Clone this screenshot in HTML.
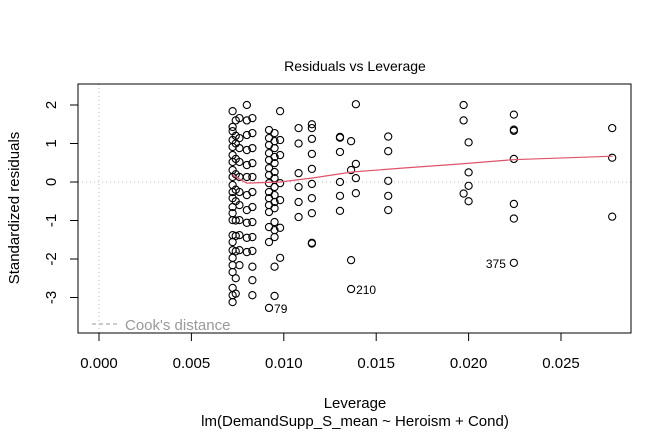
<!DOCTYPE html>
<html><head><meta charset="utf-8"><style>
body{margin:0;background:#fff}
svg text{font-family:"Liberation Sans",sans-serif}
</style></head><body>
<svg id="chart" width="672" height="432" xmlns="http://www.w3.org/2000/svg">
<rect width="672" height="432" fill="#fff"/>
<text x="355" y="71" text-anchor="middle" font-size="14">Residuals vs Leverage</text>
<text x="355" y="408" text-anchor="middle" font-size="15">Leverage</text>
<text x="355" y="426" text-anchor="middle" font-size="15">lm(DemandSupp_S_mean ~ Heroism + Cond)</text>
<text transform="translate(19,208) rotate(-90)" text-anchor="middle" font-size="15">Standardized residuals</text>
<g id="axes"></g>
<g id="marks"></g>
<rect x="78" y="84" width="553" height="249" fill="none" stroke="#000" stroke-width="1"/>
</svg>
<script>
const levs = [0.00723,0.0074,0.0076,0.0080,0.0083,0.0092,0.0095,0.0098,0.0108,0.01152,0.01304,0.01364,0.0139,0.01565,0.01973,0.0200,0.02245,0.02777];
const resCol0 = [1.84,1.43,1.32,1.09,0.91,0.70,0.52,0.31,0.13,-0.08,-0.26,-0.42,-0.65,-0.81,-0.99,-1.38,-1.56,-1.77,-1.97,-2.16,-2.34,-2.75,-2.94,-3.12];
const resCol1 = [1.6,1.2,1.0,0.6,0.2,-0.2,-0.5,-1.0,-1.4,-1.8,-2.5,-2.9];
const resCol2 = [1.66,1.14,0.88,0.52,0.13,-0.26,-0.6,-0.99,-1.38,-1.77,-2.16];
const resCol3 = [2.0,1.6,1.22,0.83,0.44,0.13,-0.34,-0.73,-1.06,-1.45,-1.82];
const resCol4 = [1.66,1.27,0.88,0.49,0.13,-0.26,-0.65,-1.04,-1.43,-1.79,-2.2,-2.55,-2.94];
const resCol5 = [1.35,1.14,0.96,0.75,0.57,0.36,0.18,-0.03,-0.26,-0.42,-0.6,-0.78,-1.17,-1.56,-3.27];
const resCol6 = [1.27,1.06,0.88,0.65,0.49,0.26,0.1,-0.13,-0.34,-0.52,-0.68,-1.04,-1.25,-1.43,-2.2,-2.96];
const resCol7 = [1.84,1.09,0.7,-0.03,-0.47,-1.19,-1.97];
const resCol8 = [1.4,1.0,0.23,-0.13,-0.52,-0.91];
const resCol9 = [1.5,1.4,1.12,0.73,0.34,-0.05,-0.42,-0.81,-1.58,-1.6];
const resCol10 = [1.17,1.15,0.78,0,-0.36,-0.75];
const resCol11 = [1.06,0.31,-2.03,-2.78];
const resCol12 = [2.02,0.47,0.1,-0.29];
const resCol13 = [1.18,0.8,0.03,-0.36,-0.73];
const resCol14 = [2.0,1.6,-0.3];
const resCol15 = [1.03,0.25,-0.1,-0.5];
const resCol16 = [1.75,1.36,1.33,0.6,-0.57,-0.95,-2.1];
const resCol17 = [1.4,0.63,-0.9];
const residualCols = [resCol0,resCol1,resCol2,resCol3,resCol4,resCol5,resCol6,resCol7,resCol8,resCol9,resCol10,resCol11,resCol12,resCol13,resCol14,resCol15,resCol16,resCol17];
const smoothLev = [0.00723,0.0080,0.0098,0.0115,0.0137,0.0164,0.0196,0.0224,0.0278];
const smoothRes = [0.18,-0.03,0.0,0.1,0.26,0.36,0.47,0.58,0.67];
const xTicks = [0,0.005,0.01,0.015,0.02,0.025];
const xTickLabels = ["0.000","0.005","0.010","0.015","0.020","0.025"];
const yTicks = [-3,-2,-1,0,1,2];
const outlierLev = [0.0092,0.01364,0.02245];
const outlierRes = [-3.27,-2.78,-2.1];
const outlierLabels = ["79","210","375"];

const NS="http://www.w3.org/2000/svg";
const X = v => 99 + v*18480;
const Y = v => 182 - v*38.5;
function mk(tag, attrs, parent){const e=document.createElementNS(NS,tag);for(const k in attrs)e.setAttribute(k,attrs[k]);parent.appendChild(e);return e;}
const axes=document.getElementById('axes'), marks=document.getElementById('marks');

// reference lines
let l=mk('line',{x1:X(0),x2:X(0),y1:84,y2:333,stroke:'#bbb','stroke-dasharray':'1,3'},axes);


l=mk('line',{x1:78,x2:631,y1:Y(0),y2:Y(0),stroke:'#bbb','stroke-dasharray':'1,3'},axes);



xTicks.forEach((t,i)=>{
  const tk=mk('line',{x1:X(t),x2:X(t),y1:333,y2:341,stroke:'#000'},axes);
  
  
  const tx=mk('text',{x:X(t),y:368,'text-anchor':'middle','font-size':15},axes);
  tx.textContent=xTickLabels[i];
  
  
});
mk('line',{x1:X(0),x2:X(0.025),y1:333,y2:333,stroke:'#000'},axes);
yTicks.forEach(t=>{
  const tk=mk('line',{x1:70,x2:78,y1:Y(t),y2:Y(t),stroke:'#000'},axes);
  
  
  const tx=mk('text',{transform:`translate(56,${Y(t)}) rotate(-90)`,'text-anchor':'middle','font-size':15},axes);
  tx.textContent=String(t);
  
  
});
mk('line',{x1:78,x2:78,y1:Y(-3),y2:Y(2),stroke:'#000'},axes);

// points
residualCols.forEach((col,ci)=>{
  col.forEach(r=>{
    const c=mk('circle',{cx:X(levs[ci]),cy:Y(r),r:3.6,fill:'none',stroke:'#000','stroke-width':1.1},marks);
    
    
  });
});
// smoother
const d=smoothLev.map((v,i)=>(i?'L':'M')+X(v)+','+Y(smoothRes[i])).join(' ');
const p=mk('path',{d:d,fill:'none',stroke:'#DF536B','stroke-width':1.2},marks);


// outlier labels
outlierLev.forEach((v,i)=>{
  const left = i===2;
  const t=mk('text',{x:left?X(v)-8:X(v)+5,y:Y(outlierRes[i])+5,'text-anchor':left?'end':'start','font-size':12},marks);
  t.textContent=outlierLabels[i];
  
  
});
// legend
const lg=mk('line',{x1:92,x2:120,y1:324,y2:324,stroke:'#999','stroke-dasharray':'4,3'},marks);


const lt=mk('text',{x:125,y:330,'font-size':15,fill:'#999'},marks);
lt.textContent="Cook's distance";


</script>
</body></html>
